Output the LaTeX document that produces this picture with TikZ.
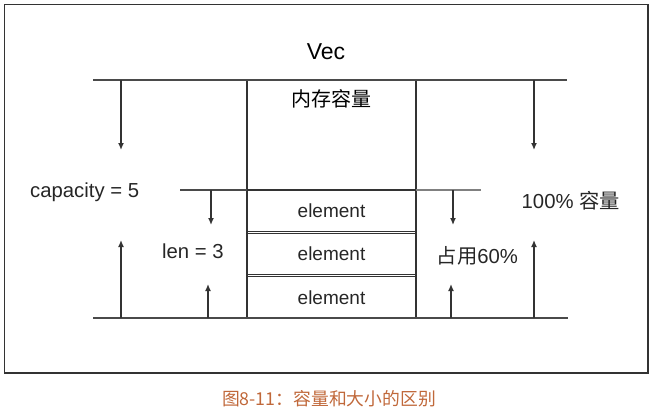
\documentclass[tikz,border=0pt]{standalone}
\usepackage{fontspec}
\setmainfont{Liberation Sans}
\newfontfamily\cjk{Noto Sans CJK SC}
\usepackage{tikz}
\usetikzlibrary{arrows.meta,positioning}
\definecolor{linegray}{HTML}{4A4A4A}
\definecolor{boxgray}{HTML}{333333}
\definecolor{captionbrown}{HTML}{C0683A}
\tikzset{%
  arrow/.style={line width=1.3pt,draw=boxgray,-{Latex[length=7pt,width=6pt]}},
  guide/.style={line width=1.3pt,draw=linegray},
  lbl/.style={font=\fontsize{20.3}{24}\selectfont,inner sep=0pt,text=black!85},
  elem/.style={draw=boxgray,line width=1.3pt,minimum width=169pt,minimum height=41.3pt,
    inner sep=0pt,outer sep=0pt,font=\fontsize{19}{22}\selectfont,text=black!85,text depth=0pt},
}
\begin{document}
\begin{tikzpicture}[x=1pt,y=-1pt]
  \useasboundingbox (0,0) rectangle (653,412);
  \draw[line width=1.8pt,draw=boxgray] (4.5,4.5) rectangle (648,373);

  % title and memory block
  \node[font=\fontsize{23}{27}\selectfont,inner sep=0pt] (vec) at (326,52) {Vec};
  \node[draw=boxgray,line width=1.3pt,minimum width=169pt,minimum height=238pt,
        inner sep=0pt,outer sep=0pt] (mem) at (331.5,199) {};
  \node[font=\fontsize{20}{24}\cjk,inner sep=0pt] (memlbl) at (331.5,99) {内存容量};

  % elements
  \node[elem,anchor=north] (e1) at (331.5,190) {element};
  \node[elem,below=2pt of e1] (e2) {element};
  \node[elem,below=2pt of e2] (e3) {element};

  % guide lines
  \coordinate (topL) at (93,80);   \coordinate (topR) at (567,80);
  \coordinate (botL) at (93,318);  \coordinate (botR) at (568,318);
  \coordinate (capL) at (180,190); \coordinate (capR) at (481,190);
  \draw[guide] (topL) -- (topR);
  \draw[guide] (botL) -- (botR);
  \draw[guide] (capL) -- (e1.north west);
  \draw[guide,draw=gray] (e1.north east) -- (capR);

  % labels
  \node[lbl,anchor=base west] (caplbl) at (30,197) {capacity = 5};
  \node[lbl,anchor=base west] (lenlbl) at (162,258) {len = 3};
  \node[lbl,anchor=base west] (fulllbl) at (521.5,208) {100\% {\cjk 容量}};
  \node[lbl,anchor=base west] (usedlbl) at (436.5,263) {{\cjk 占用}60\%};

  % arrows
  \coordinate (a1s) at (121,80);  \coordinate (a1e) at (121,150);
  \coordinate (a2s) at (121,318); \coordinate (a2e) at (121,240);
  \coordinate (a3s) at (211,190); \coordinate (a3e) at (211,225);
  \coordinate (a4s) at (208,318); \coordinate (a4e) at (208,284);
  \coordinate (a5s) at (534,80);  \coordinate (a5e) at (534,150);
  \coordinate (a6s) at (534,318); \coordinate (a6e) at (534,240);
  \coordinate (a7s) at (453,190); \coordinate (a7e) at (453,225);
  \coordinate (a8s) at (451,318); \coordinate (a8e) at (451,284);
  \foreach \s/\e in {a1s/a1e,a2s/a2e,a3s/a3e,a4s/a4e,a5s/a5e,a6s/a6e,a7s/a7e,a8s/a8e}
    \draw[arrow] (\s) -- (\e);

  % caption
  \node[font=\fontsize{17.8}{20}\cjk,text=captionbrown,inner sep=0pt] (caption) at (329,399)
    {图8-11：容量和大小的区别};
\end{tikzpicture}
\end{document}
